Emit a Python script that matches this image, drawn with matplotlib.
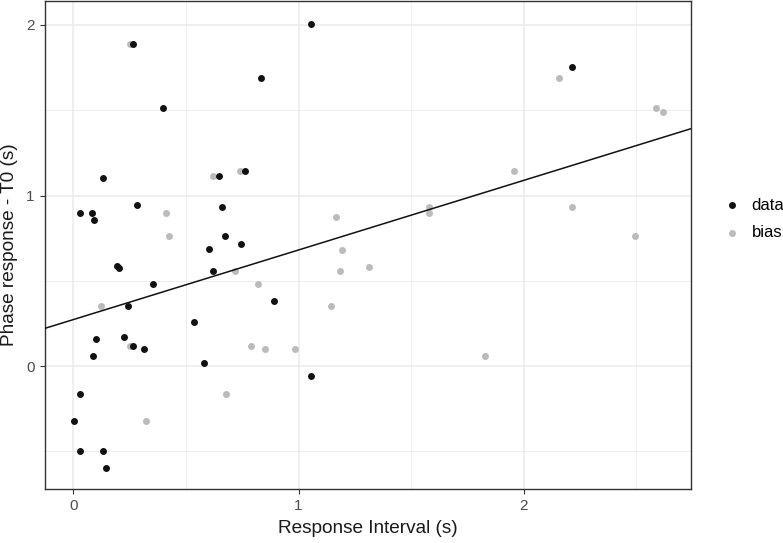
import numpy as np
import matplotlib
matplotlib.use("Agg")
import matplotlib.pyplot as plt
from matplotlib.ticker import MultipleLocator

plt.rcParams['font.family'] = ['Liberation Sans', 'DejaVu Sans']

# points
data_x = [0.266, 0.832, 0.400, 0.130, 0.645, 0.762, 0.284, 0.031, 0.083, 0.090,
          0.662, 0.675, 0.744, 0.604, 0.195, 0.203, 0.621, 0.354, 0.241, 0.892,
          0.534, 0.102, 0.224, 0.266, 0.312, 0.089, 0.580, 0.031, 0.002, 0.031,
          0.130, 0.144, 1.055, 1.055, 2.212]
data_y = [1.887, 1.688, 1.513, 1.105, 1.115, 1.146, 0.946, 0.900, 0.900, 0.854,
          0.930, 0.762, 0.715, 0.684, 0.587, 0.577, 0.556, 0.480, 0.351, 0.380,
          0.257, 0.160, 0.168, 0.121, 0.098, 0.058, 0.019, -0.164, -0.324, -0.499,
          -0.499, -0.598, 2.008, -0.057, 1.756]

bias_x = [0.252, 0.621, 0.740, 0.411, 0.423, 0.716, 0.820, 0.124, 0.252, 0.790,
          0.851, 0.676, 0.324, 1.166, 1.194, 1.580, 1.580, 1.956, 1.184, 1.311,
          1.142, 0.984, 1.827, 2.154, 2.585, 2.616, 2.212, 2.493]
bias_y = [1.887, 1.115, 1.146, 0.900, 0.762, 0.556, 0.480, 0.351, 0.121, 0.121,
          0.098, -0.164, -0.324, 0.877, 0.683, 0.932, 0.899, 1.146, 0.556, 0.579,
          0.351, 0.098, 0.058, 1.688, 1.513, 1.489, 0.930, 0.762]

# fitted line
intercept = 0.273
slope = 0.408

fig = plt.figure(figsize=(7.83, 5.43), dpi=100)
ax = fig.add_axes([45/783, 1 - 489/543, 646/783, 488/543])

ax.scatter(bias_x, bias_y, s=25, color='#bbbbbb', linewidths=0, label='bias', zorder=3)
ax.scatter(data_x, data_y, s=25, color='#111111', linewidths=0, label='data', zorder=4)

ax.set_xlim(-0.126, 2.742)
ax.set_ylim(-0.72, 2.14)
xl = np.array(ax.get_xlim())
ax.plot(xl, intercept + slope * xl, color='#111111', lw=1.1, zorder=5)

ax.xaxis.set_major_locator(MultipleLocator(1))
ax.xaxis.set_minor_locator(MultipleLocator(0.5))
ax.yaxis.set_major_locator(MultipleLocator(1))
ax.yaxis.set_minor_locator(MultipleLocator(0.5))
ax.grid(which='major', color='#ebebeb', lw=1.1, zorder=0)
ax.grid(which='minor', color='#ebebeb', lw=0.6, zorder=0)
ax.set_axisbelow(True)

for s in ax.spines.values():
    s.set_color('#333333')
    s.set_linewidth(1.0)
ax.tick_params(which='major', length=3.5, width=0.8, color='#333333',
               labelcolor='#4d4d4d', labelsize=11, pad=4)
ax.tick_params(which='minor', length=0)

ax.set_xlabel('Response Interval (s)', fontsize=13.7, color='#1a1a1a', labelpad=5)
ax.set_ylabel('Phase response - T0 (s)', fontsize=13.7, color='#1a1a1a', labelpad=6)

h, l = ax.get_legend_handles_labels()
fig.legend(h[::-1], l[::-1], loc='center left', bbox_to_anchor=(715/783, 1 - 219/543),
           frameon=False, fontsize=12, handletextpad=0.2, labelspacing=0.75,
           borderaxespad=0, borderpad=0)

plt.savefig('out.png', dpi=100)
